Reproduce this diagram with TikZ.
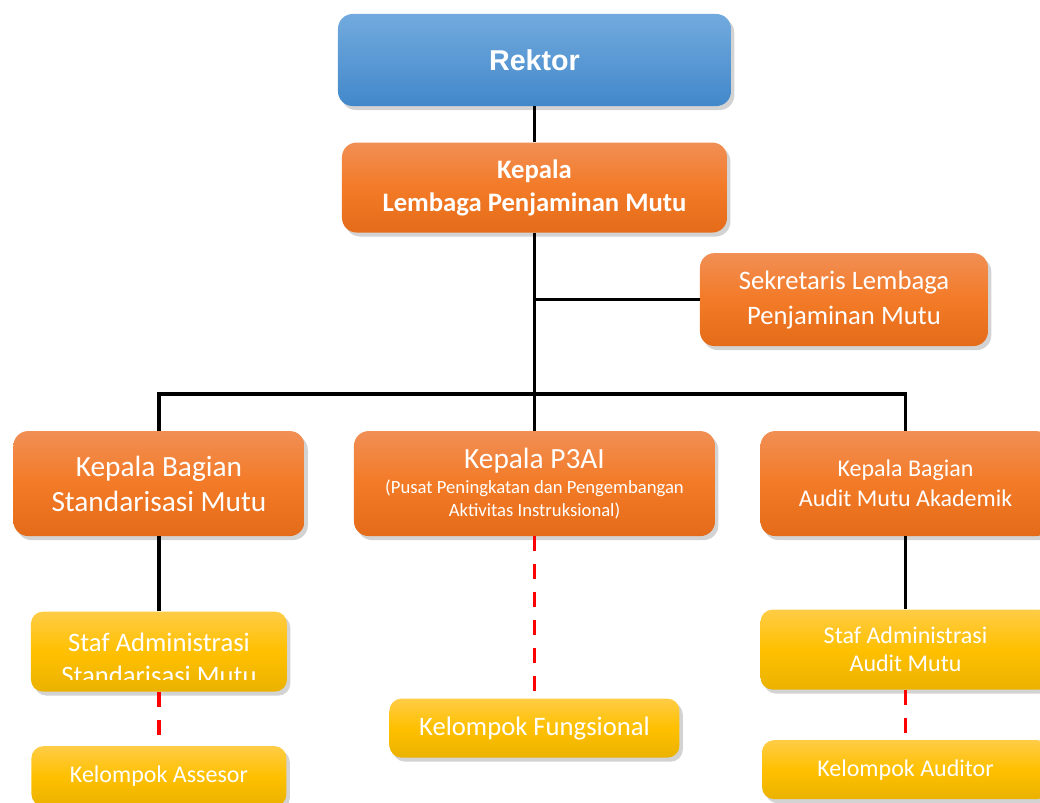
\documentclass[tikz,border=0pt]{standalone}
\usepackage{fontspec}
\setmainfont{Carlito}
\newfontfamily\arialfont{Liberation Sans}
\usetikzlibrary{positioning, shadows, calc}
\definecolor{rektortop}{RGB}{114,170,222}
\definecolor{rektorbot}{RGB}{66,136,202}
\definecolor{orgtop}{RGB}{241,143,85}
\definecolor{orgmid}{RGB}{243,122,38}
\definecolor{orgbot}{RGB}{228,107,25}
\definecolor{stftop}{RGB}{255,204,70}
\definecolor{stfmid}{RGB}{255,192,0}
\definecolor{stfbot}{RGB}{234,178,0}
\definecolor{dashred}{RGB}{255,0,0}

\begin{document}
\begin{tikzpicture}[
    unit/.style={
      rectangle, rounded corners=11pt, inner sep=0pt,
      text=white, align=center,
      drop shadow={shadow xshift=2.5pt, shadow yshift=-3pt, opacity=0.35}
    },
    topbox/.style={unit, top color=rektortop, bottom color=rektorbot},
    headbox/.style={unit, top color=orgtop, bottom color=orgbot, middle color=orgmid},
    staffbox/.style={unit, rounded corners=9pt, top color=stftop, bottom color=stfbot, middle color=stfmid},
    solidline/.style={line width=2.8pt, draw=black},
    dashline/.style={line width=2.8pt, draw=dashred, dash pattern=on 11pt off 10pt}
  ]

  % ---- Frame ----
  \useasboundingbox (-400.875pt,-557.25pt) rectangle (379.125pt,45pt);
  \clip (-400.875pt,-557.25pt) rectangle (379.125pt,45pt);

  % ---- Top ----
  \node[topbox, minimum width=294.75pt, minimum height=69pt,
        font=\arialfont\bfseries\fontsize{21.5}{26}\selectfont] (rektor) at (0,0) {Rektor};
  \node[headbox, minimum width=288.75pt, minimum height=67.5pt, below=27pt of rektor,
        font=\bfseries\fontsize{20}{24.75}\selectfont] (kepala) {Kepala\\Lembaga Penjaminan Mutu};
  \node[headbox, minimum width=216pt, minimum height=69.75pt, below=15pt of kepala, xshift=232.1pt,
        font=\fontsize{20}{26.25}\selectfont] (sekre) {Sekretaris Lembaga\\Penjaminan Mutu};

  % ---- Heads of division ----
  \node[headbox, minimum width=270.75pt, minimum height=78.75pt, below=148.5pt of kepala,
        font=\fontsize{14}{17.25}\selectfont] (p3ai)
        {{\fontsize{22}{26}\selectfont Kepala P3AI}\\[2pt]
         (Pusat Peningkatan dan Pengembangan\\Aktivitas Instruksional)};
  \node[headbox, minimum width=218.25pt, minimum height=78.75pt, left=36.75pt of p3ai,
        font=\fontsize{22}{26.25}\selectfont] (kbs) {Kepala Bagian\\Standarisasi Mutu};
  \node[headbox, minimum width=217.5pt, minimum height=78.75pt, right=33.75pt of p3ai,
        font=\fontsize{18}{22.5}\selectfont] (kba) {Kepala Bagian\\Audit Mutu Akademik};

  % ---- Staff and groups ----
  \node[staffbox, minimum width=192pt, minimum height=60pt, below=56.25pt of kbs] (stafs) {};
  \begin{scope}
    \clip (stafs.north west) rectangle ($(stafs.south east)+(0,9pt)$);
    \node[text=white, align=center, inner sep=0pt, font=\fontsize{20}{24.75}\selectfont]
      (stafstext) at ($(stafs.center)+(0,-5.5pt)$) {Staf Administrasi\\Standarisasi Mutu};
  \end{scope}
  \node[staffbox, minimum width=191.25pt, minimum height=45pt, below=40.5pt of stafs,
        font=\fontsize{18}{22}\selectfont] (asesor) {Kelompok Assesor};
  \node[staffbox, minimum width=217.5pt, minimum height=44.25pt, below=121.5pt of p3ai,
        font=\fontsize{20}{24}\selectfont] (fung) {Kelompok Fungsional};
  \node[staffbox, minimum width=217.5pt, minimum height=60pt, below=54.75pt of kba,
        font=\fontsize{18}{21}\selectfont] (stafa) {Staf Administrasi\\Audit Mutu};
  \node[staffbox, minimum width=215.25pt, minimum height=44.25pt, below=37.5pt of stafa,
        font=\fontsize{18}{22}\selectfont] (auditor) {Kelompok Auditor};

  % ---- Solid connectors ----
  \coordinate (bus) at ($(p3ai.north)+(0,27.75pt)$);
  \draw[solidline] (rektor.south) -- (kepala.north);
  \draw[solidline] (kepala.south) -- (p3ai.north);
  \draw[solidline] (sekre.west) -- (sekre.west -| kepala.south);
  \draw[solidline] (kbs.north) -- (kbs.north |- bus) -- (kba.north |- bus) -- (kba.north);
  \draw[solidline] (kbs.south) -- (kbs.south |- stafs.north);
  \draw[solidline] (kba.south) -- (kba.south |- stafa.north);

  % ---- Dashed connectors ----
  \draw[dashline] (stafs.south) -- (stafs.south |- asesor.north);
  \draw[dashline] (p3ai.south) -- (p3ai.south |- fung.north);
  \draw[dashline] (stafa.south) -- (stafa.south |- auditor.north);

\end{tikzpicture}
\end{document}
